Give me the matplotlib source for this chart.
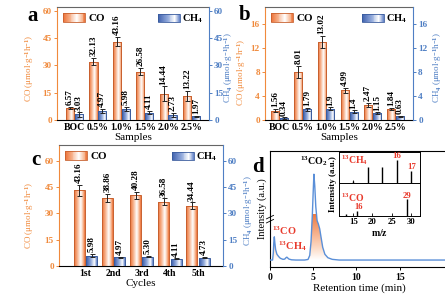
import numpy as np
import matplotlib
matplotlib.use('Agg')
import matplotlib.pyplot as plt
from matplotlib.colors import LinearSegmentedColormap
from matplotlib.patches import Rectangle, PathPatch
from matplotlib.legend_handler import HandlerBase

plt.rcParams['font.family'] = ['Liberation Serif', 'DejaVu Serif']
plt.rcParams['font.weight'] = 'bold'
plt.rcParams['mathtext.fontset'] = 'custom'
plt.rcParams['mathtext.rm'] = 'Liberation Serif:bold'
plt.rcParams['mathtext.bf'] = 'Liberation Serif:bold'
plt.rcParams['mathtext.it'] = 'Liberation Serif:italic:bold'
plt.rcParams['mathtext.default'] = 'bf'
plt.rcParams['axes.linewidth'] = 0.8

# ---------------- data ----------------
samples = ['BOC', '0.5%', '1.0%', '1.5%', '2.0%', '2.5%']
co_a = [6.57, 32.13, 43.16, 26.58, 14.44, 13.22]
co_a_err = [0.5, 2.0, 2.5, 2.0, 4.0, 3.0]
ch4_a = [3.03, 4.97, 5.98, 4.11, 2.73, 1.97]
ch4_a_err = [1.2, 1.3, 1.3, 0.8, 1.2, 0.4]

co_b = [1.56, 8.01, 13.02, 4.99, 2.47, 1.84]
co_b_err = [0.25, 1.0, 1.0, 0.4, 0.35, 0.25]
ch4_b = [0.34, 1.79, 1.9, 1.4, 1.15, 0.63]
ch4_b_err = [0.1, 0.3, 0.2, 0.2, 0.15, 0.1]

cycles = ['1st', '2nd', '3rd', '4th', '5th']
co_c = [43.16, 38.86, 40.28, 36.58, 34.44]
co_c_err = [3.0, 2.2, 2.0, 2.0, 1.8]
ch4_c = [5.98, 4.97, 5.30, 4.11, 4.73]
ch4_c_err = [1.0, 0.3, 0.4, 0.2, 0.3]

gc_time = [0.0, 0.3, 0.38, 0.44, 0.5, 0.56, 0.65, 0.8, 1.0, 1.2, 1.5, 1.7, 1.85, 1.95,
           2.05, 2.2, 2.5, 3.0, 4.0, 4.4, 4.6, 4.75, 4.9, 5.0, 5.08, 5.18, 5.3, 5.45,
           5.6, 5.75, 5.9, 6.1, 6.35, 6.7, 7.2, 8.0, 12.0, 21.0]
gc_int = [0.06, 0.06, 0.12, 0.21, 0.26, 0.21, 0.15, 0.11, 0.09, 0.075, 0.066, 0.068, 0.08, 0.085,
          0.078, 0.068, 0.062, 0.06, 0.06, 0.065, 0.1, 0.22, 0.45, 0.65, 0.80, 0.70, 0.52, 0.40,
          0.37, 0.33, 0.26, 0.17, 0.11, 0.08, 0.066, 0.06, 0.06, 0.06]

ms_ch4_mz = [13, 14, 15, 16, 17]
ms_ch4_int = [0.05, 0.52, 0.52, 0.74, 0.39]
ms_co_mz = [13, 16, 29]
ms_co_int = [0.05, 0.16, 0.52]

# ---------------- style ----------------
ORANGE = '#F08A3C'
BLUE = '#4F7FC4'
RED = '#E83A2C'
co_cmap = LinearSegmentedColormap.from_list('co', [(0, '#EC7035'), (0.3, '#F6B08A'), (0.62, '#FFFFFF'), (0.85, '#F7B792'), (1, '#EC7035')])
ch4_cmap = LinearSegmentedColormap.from_list('ch4', [(0, '#3558A8'), (0.45, '#92AADB'), (0.78, '#FFFFFF'), (1, '#5C7EC6')])
CO_EDGE = '#C8602E'
CH4_EDGE = '#3A5C9E'

W, H = 445, 294
fig = plt.figure(figsize=(W / 100, H / 100), dpi=100)


def px_axes(l, t, r, b):
    return fig.add_axes([l / W, (H - b) / H, (r - l) / W, (b - t) / H])


grad = np.linspace(0, 1, 64).reshape(1, -1)


def grad_bars(ax, xs, vals, errs, width, cmap, edge):
    bars = ax.bar(xs, vals, width, facecolor='none', edgecolor=edge, linewidth=0.7, zorder=3)
    for b in bars:
        x0, y0 = b.get_x(), b.get_y()
        im = ax.imshow(grad, extent=[x0, x0 + b.get_width(), y0, y0 + b.get_height()],
                       aspect='auto', cmap=cmap, zorder=2, interpolation='bilinear')
        im.set_clip_path(b)
    ax.errorbar(xs, vals, yerr=errs, fmt='none', ecolor='#222222', elinewidth=0.7,
                capsize=1.8, capthick=0.7, zorder=4)
    return bars


class GradHandler(HandlerBase):
    def __init__(self, cmap, edge):
        super().__init__()
        self.cmap = cmap
        self.edge = edge

    def create_artists(self, legend, orig_handle, xdescent, ydescent, width, height, fontsize, trans):
        arts = []
        n = 24
        for i in range(n):
            r = Rectangle((-xdescent + i * width / n, -ydescent), width / n + 0.05, height,
                          facecolor=self.cmap((i + 0.5) / n), edgecolor='none', transform=trans)
            arts.append(r)
        arts.append(Rectangle((-xdescent, -ydescent), width, height, facecolor='none',
                              edgecolor=self.edge, linewidth=0.6, transform=trans))
        return arts


def value_labels(ax, xs, vals, errs, fmt, fs=6.6, pad=1.0):
    ylo, yhi = ax.get_ylim()
    off = (yhi - ylo) * 0.015 * pad
    for x, v, e in zip(xs, vals, errs):
        ax.text(x, v + e + off, fmt(v), rotation=90, ha='center', va='bottom',
                fontsize=fs, fontweight='bold', zorder=5)


def style_twin(ax, ax2, ylim, ticks, ylab_l, ylab_r):
    for a in (ax, ax2):
        a.set_ylim(*ylim)
        a.set_yticks(ticks)
    ax.spines['left'].set_color(ORANGE)
    ax.spines['right'].set_visible(False)
    ax.spines['top'].set_color('#666666')
    ax2.spines['right'].set_color(BLUE)
    for s in ('left', 'top', 'bottom'):
        ax2.spines[s].set_visible(False)
    ax.tick_params(axis='y', colors=ORANGE, labelsize=6.6, length=2.5, width=0.7, pad=1.2)
    ax2.tick_params(axis='y', colors=BLUE, labelsize=6.6, length=2.5, width=0.7, pad=1.2)
    ax.tick_params(axis='x', length=0, labelsize=7, pad=2)
    ax.set_ylabel(ylab_l, color=ORANGE, fontsize=6.5)
    ax2.set_ylabel(ylab_r, color=BLUE, fontsize=6.5)


def legends(ax2):
    h1 = Rectangle((0, 0), 1, 1)
    h2 = Rectangle((0, 0), 1, 1)
    l1 = ax2.legend([h1], ['CO'], loc='upper left', frameon=False, fontsize=8,
                    handler_map={h1: GradHandler(co_cmap, CO_EDGE)}, handlelength=2.0,
                    handleheight=0.8, borderaxespad=0.35, handletextpad=0.25, borderpad=0.2)
    ax2.add_artist(l1)
    ax2.legend([h2], ['CH$_4$'], loc='upper right', frameon=False, fontsize=7.5,
               handler_map={h2: GradHandler(ch4_cmap, CH4_EDGE)}, handlelength=2.1,
               handleheight=0.8, borderaxespad=0.35, handletextpad=0.25, borderpad=0.2)


HALF = 4.5  # half width of a rotated y-label, in pixels


def place_label(ax, px_center, frac_y, side='left'):
    # left labels are anchored at their right edge, right labels at their left edge
    l, b, w, h = ax.get_position().bounds
    edge = px_center + HALF if side == 'left' else px_center - HALF
    ax.yaxis.set_label_coords((edge / W - l) / w, frac_y)


ylab_co = 'CO (μmol·g$^{-1}$h$^{-1}$)'
ylab_ch4 = 'CH$_4$ (μmol·g$^{-1}$h$^{-1}$)'

# ---------------- panel a ----------------
axa = px_axes(57, 7, 209, 120)
axa2 = axa.twinx()
xa = np.arange(len(samples))
bw = 0.35
grad_bars(axa, xa - 0.19, co_a, co_a_err, bw, co_cmap, CO_EDGE)
grad_bars(axa2, xa + 0.19, ch4_a, ch4_a_err, bw, ch4_cmap, CH4_EDGE)
axa.set_xlim(-0.75, 5.75)
axa2.set_xlim(-0.75, 5.75)
axa.set_xticks(xa)
axa.set_xticklabels(samples)
axa.set_xlabel('Samples', fontsize=8, labelpad=1)
style_twin(axa, axa2, (0, 62.2), [0, 15, 30, 45, 60], ylab_co, ylab_ch4)
value_labels(axa, xa - 0.19, co_a, co_a_err, lambda v: f'{v:.2f}')
value_labels(axa2, xa + 0.19, ch4_a, ch4_a_err, lambda v: f'{v:.2f}')
legends(axa2)
place_label(axa, 32, 0.46, 'left')
place_label(axa2, 226.5, 0.46, 'right')
fig.text(33 / W, 1 - 16 / H, 'a', fontsize=15, fontweight='bold', ha='center', va='center')

# ---------------- panel b ----------------
axb = px_axes(265, 7, 413, 120)
axb2 = axb.twinx()
grad_bars(axb, xa - 0.19, co_b, co_b_err, bw, co_cmap, CO_EDGE)
grad_bars(axb2, xa + 0.19, ch4_b, ch4_b_err, bw, ch4_cmap, CH4_EDGE)
axb.set_xlim(-0.63, 5.75)
axb2.set_xlim(-0.63, 5.75)
axb.set_xticks(xa)
axb.set_xticklabels(samples)
axb.set_xlabel('Samples', fontsize=8, labelpad=1)
style_twin(axb, axb2, (0, 18.9), [0, 4, 8, 12, 16], ylab_co, ylab_ch4)
value_labels(axb, xa - 0.19, co_b, co_b_err, lambda v: f'{v:g}')
value_labels(axb2, xa + 0.19, ch4_b, ch4_b_err, lambda v: f'{v:g}')
legends(axb2)
place_label(axb, 243.5, 0.42, 'left')
place_label(axb2, 435, 0.46, 'right')
fig.text(245 / W, 1 - 15 / H, 'b', fontsize=15, fontweight='bold', ha='center', va='center')

# ---------------- panel c ----------------
axc = px_axes(59, 145, 223, 266)
axc2 = axc.twinx()
xc = np.arange(len(cycles))
bwc = 0.39
grad_bars(axc, xc - 0.22, co_c, co_c_err, bwc, co_cmap, CO_EDGE)
grad_bars(axc2, xc + 0.22, ch4_c, ch4_c_err, bwc, ch4_cmap, CH4_EDGE)
axc.set_xlim(-0.94, 4.89)
axc2.set_xlim(-0.94, 4.89)
axc.set_xticks(xc)
axc.set_xticklabels(cycles)
axc.set_xlabel('Cycles', fontsize=8, labelpad=1)
style_twin(axc, axc2, (0, 69), [0, 15, 30, 45, 60], ylab_co, ylab_ch4)
value_labels(axc, xc - 0.22, co_c, co_c_err, lambda v: f'{v:.2f}')
value_labels(axc2, xc + 0.22, ch4_c, ch4_c_err, lambda v: f'{v:.2f}')
legends(axc2)
place_label(axc, 32, 0.42, 'left')
place_label(axc2, 246, 0.46, 'right')
fig.text(36 / W, 1 - 160 / H, 'c', fontsize=15, fontweight='bold', ha='center', va='center')

# ---------------- panel d ----------------
axd = px_axes(270, 151, 448, 267)
t = np.array(gc_time)
I = np.array(gc_int)
axd.set_xlim(0, 20.6)
axd.set_ylim(0, 1)
poly = axd.fill_between(t, 0.06, I, facecolor='none', edgecolor='none')
clip_patch = PathPatch(poly.get_paths()[0], transform=axd.transData, facecolor='none', edgecolor='none')
axd.add_patch(clip_patch)
dcmap = LinearSegmentedColormap.from_list('d', [(0, '#FFFFFF'), (0.25, '#FCDCC8'), (1, '#EE7A40')])
img = axd.imshow(np.linspace(0, 1, 128).reshape(-1, 1), extent=[0, 20.6, 0.06, 0.45], origin='lower',
                 aspect='auto', cmap=dcmap, zorder=1, interpolation='bilinear')
img.set_clip_path(clip_patch)
axd.plot(t, I, color='#5A8FD8', lw=1.0, zorder=3)
axd.set_xlim(0, 20.6)
axd.set_ylim(0, 1)
axd.set_yticks([])
axd.set_xticks([0, 5, 10, 15])
axd.tick_params(axis='x', labelsize=7, length=2.5, width=0.7, pad=1.5)
axd.spines['right'].set_visible(False)
axd.set_xlabel('Retention time (min)', fontsize=8, labelpad=1)
axd.set_ylabel('Intensity (a.u.)', fontsize=7.5, labelpad=2)
# axis break marks
for dy in (0.0, 0.035):
    axd.plot([-0.02, 0.02], [0.38 + dy, 0.41 + dy], transform=axd.transAxes, color='k',
             lw=0.6, clip_on=False, zorder=6)
axd.text(5.1, 0.85, '$^{13}$CO$_2$', fontsize=7.2, ha='center', va='bottom')
axd.text(0.25, 0.255, '$^{13}$CO', fontsize=7.5, color=RED, ha='left', va='bottom')
axd.text(0.95, 0.12, '$^{13}$CH$_4$', fontsize=7.5, color=RED, ha='left', va='bottom')
fig.text(258 / W, 1 - 167 / H, 'd', fontsize=15, fontweight='bold', ha='center', va='center')

# inset: mass spectra
ins1 = px_axes(339, 152, 420, 183)
ins2 = px_axes(339, 183, 420, 216)
ins1.vlines(ms_ch4_mz, 0, ms_ch4_int, color='k', lw=1.0)
ins1.set_xlim(12.0, 17.6)
ins1.set_ylim(0, 1)
ins1.set_xticks(ms_ch4_mz)
ins1.set_yticks([])
ins1.tick_params(axis='x', direction='in', labelsize=6.3, length=2, width=0.6, pad=1)
ins1.text(0.03, 0.95, '$^{13}$CH$_4$', transform=ins1.transAxes, color=RED, fontsize=7, va='top')
ins1.text(16, 0.74, '16', color=RED, fontsize=6.3, ha='center', va='bottom')
ins1.text(17, 0.39, '17', color=RED, fontsize=6.3, ha='center', va='bottom')
ins2.vlines(ms_co_mz, 0, ms_co_int, color='k', lw=1.0)
ins2.set_xlim(11.3, 32.4)
ins2.set_ylim(0, 1)
ins2.set_xticks([15, 20, 25, 30])
ins2.set_yticks([])
ins2.tick_params(axis='x', direction='in', labelsize=6.3, length=2, width=0.6, pad=1.5)
ins2.text(0.02, 0.74, '$^{13}$CO', transform=ins2.transAxes, color=RED, fontsize=7, va='top')
ins2.text(16.3, 0.16, '16', color=RED, fontsize=6.2, ha='center', va='bottom')
ins2.text(29, 0.5, '29', color=RED, fontsize=6.2, ha='center', va='bottom')
ins2.set_xlabel('$m/z$', fontsize=7, labelpad=1)
for a in (ins1, ins2):
    for s in a.spines.values():
        s.set_linewidth(0.7)
fig.text(333 / W, 1 - 184 / H, 'Intensity (a.u.)', rotation=90, fontsize=6.5,
         ha='center', va='center')

fig.savefig('out.png', dpi=100)
